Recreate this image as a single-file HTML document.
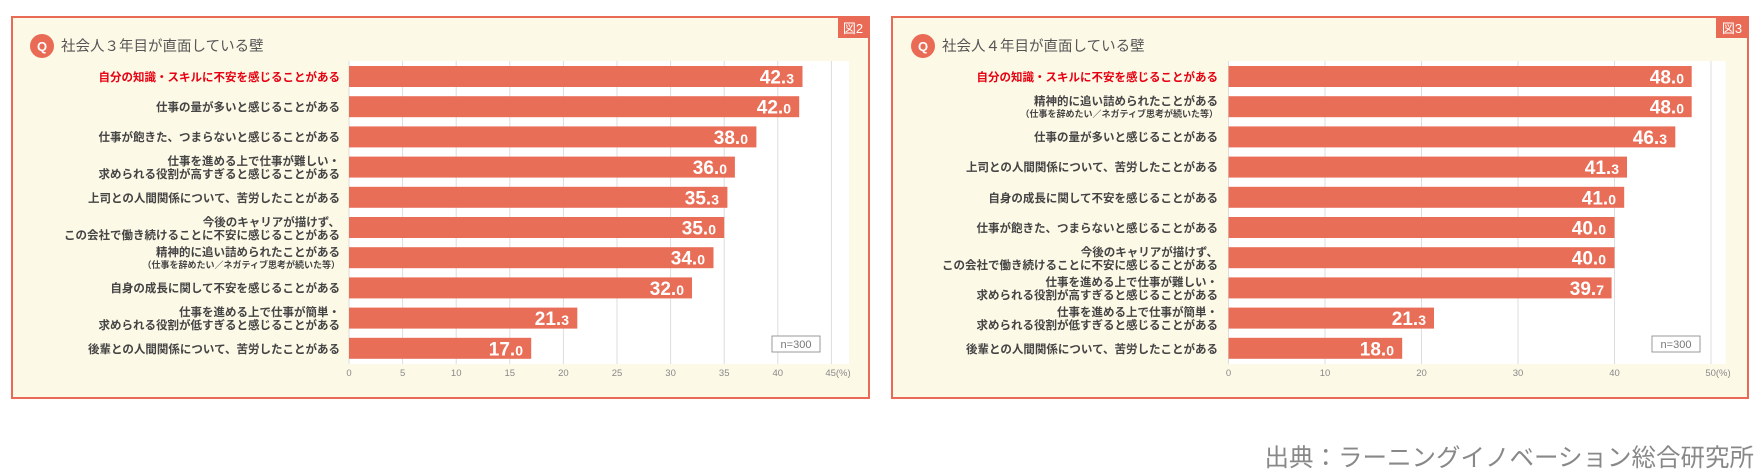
<!DOCTYPE html>
<html><head><meta charset="utf-8"><style>
html,body{margin:0;padding:0;background:#fff;width:1760px;height:476px;overflow:hidden}
svg{display:block}
.lb{font-family:"Liberation Sans","Noto Sans CJK JP",sans-serif;font-size:11.5px;font-weight:700;fill:#444;text-anchor:end}
.sm{font-size:9px}
.rd{fill:#e60012}
.v{font-family:"Liberation Sans","Noto Sans CJK JP",sans-serif;font-size:19px;font-weight:700;fill:#fff;text-anchor:end}
.v tspan{font-size:14px}
.tk{font-family:"Liberation Sans",sans-serif;font-size:9.5px;fill:#888;text-anchor:middle}
.tt{font-family:"Liberation Sans","Noto Sans CJK JP",sans-serif;font-size:14.5px;fill:#555}
.g{stroke:#ddd;stroke-width:1}
.b{fill:#e96e58}
</style></head><body>
<svg width="1760" height="476" viewBox="0 0 1760 476">
<!-- LEFT PANEL -->
<rect x="12" y="17" width="857" height="381" fill="#fdf9e7" stroke="#ea6b55" stroke-width="2"/>
<rect x="838" y="17" width="31" height="21" fill="#ea6b55"/>
<text x="853" y="33" font-family="Liberation Sans,Noto Sans CJK JP,sans-serif" font-size="13" fill="#fff" text-anchor="middle">図2</text>
<circle cx="42" cy="46" r="12" fill="#ea6b55"/>
<text x="42" y="51" font-family="Liberation Sans,sans-serif" font-size="13" font-weight="700" fill="#fff" text-anchor="middle">Q</text>
<text class="tt" x="61" y="51">社会人３年目が直面している壁</text>
<rect x="349" y="61" width="500" height="303" fill="#fff"/>
<g class="g">
<line x1="349" y1="61" x2="349" y2="364"/><line x1="402.6" y1="61" x2="402.6" y2="364"/><line x1="456.2" y1="61" x2="456.2" y2="364"/><line x1="509.8" y1="61" x2="509.8" y2="364"/><line x1="563.4" y1="61" x2="563.4" y2="364"/><line x1="617" y1="61" x2="617" y2="364"/><line x1="670.6" y1="61" x2="670.6" y2="364"/><line x1="724.2" y1="61" x2="724.2" y2="364"/><line x1="777.8" y1="61" x2="777.8" y2="364"/><line x1="831.4" y1="61" x2="831.4" y2="364"/>
</g>
<g class="tk">
<text x="349" y="376">0</text><text x="402.6" y="376">5</text><text x="456.2" y="376">10</text><text x="509.8" y="376">15</text><text x="563.4" y="376">20</text><text x="617" y="376">25</text><text x="670.6" y="376">30</text><text x="724.2" y="376">35</text><text x="777.8" y="376">40</text><text x="838" y="376">45(%)</text>
</g>
<rect x="772" y="336" width="48" height="16" fill="#fff" stroke="#999" stroke-width="1"/>
<text x="796" y="348" font-family="Liberation Sans,sans-serif" font-size="11" fill="#777" text-anchor="middle">n=300</text>
<g>
<rect class="b" x="349" y="66" width="453.5" height="21"/>
<rect class="b" x="349" y="96.2" width="450.2" height="21"/>
<rect class="b" x="349" y="126.4" width="407.4" height="21"/>
<rect class="b" x="349" y="156.6" width="385.9" height="21"/>
<rect class="b" x="349" y="186.8" width="378.4" height="21"/>
<rect class="b" x="349" y="217" width="375.2" height="21"/>
<rect class="b" x="349" y="247.2" width="364.5" height="21"/>
<rect class="b" x="349" y="277.4" width="343" height="21"/>
<rect class="b" x="349" y="307.6" width="228.3" height="21"/>
<rect class="b" x="349" y="337.8" width="182.2" height="21"/>
</g>
<g class="v">
<text x="794" y="83.5">42.<tspan>3</tspan></text>
<text x="791" y="113.7">42.<tspan>0</tspan></text>
<text x="748" y="143.9">38.<tspan>0</tspan></text>
<text x="727" y="174.1">36.<tspan>0</tspan></text>
<text x="719" y="204.3">35.<tspan>3</tspan></text>
<text x="716" y="234.5">35.<tspan>0</tspan></text>
<text x="705" y="264.7">34.<tspan>0</tspan></text>
<text x="684" y="294.9">32.<tspan>0</tspan></text>
<text x="569" y="325.1">21.<tspan>3</tspan></text>
<text x="523" y="355.3">17.<tspan>0</tspan></text>
</g>
<g class="lb">
<text class="rd" x="340" y="81">自分の知識・スキルに不安を感じることがある</text>
<text x="340" y="111">仕事の量が多いと感じることがある</text>
<text x="340" y="141">仕事が飽きた、つまらないと感じることがある</text>
<text x="340" y="165">仕事を進める上で仕事が難しい・</text>
<text x="340" y="178">求められる役割が高すぎると感じることがある</text>
<text x="340" y="202">上司との人間関係について、苦労したことがある</text>
<text x="340" y="226">今後のキャリアが描けず、</text>
<text x="340" y="239">この会社で働き続けることに不安に感じることがある</text>
<text x="340" y="256">精神的に追い詰められたことがある</text>
<text class="sm" x="340" y="268">（仕事を辞めたい／ネガティブ思考が続いた等）</text>
<text x="340" y="292">自身の成長に関して不安を感じることがある</text>
<text x="340" y="316">仕事を進める上で仕事が簡単・</text>
<text x="340" y="329">求められる役割が低すぎると感じることがある</text>
<text x="340" y="353">後輩との人間関係について、苦労したことがある</text>
</g>

<!-- RIGHT PANEL -->
<rect x="892" y="17" width="856" height="381" fill="#fdf9e7" stroke="#ea6b55" stroke-width="2"/>
<rect x="1716" y="17" width="32" height="21" fill="#ea6b55"/>
<text x="1732" y="33" font-family="Liberation Sans,Noto Sans CJK JP,sans-serif" font-size="13" fill="#fff" text-anchor="middle">図3</text>
<circle cx="923" cy="46" r="12" fill="#ea6b55"/>
<text x="923" y="51" font-family="Liberation Sans,sans-serif" font-size="13" font-weight="700" fill="#fff" text-anchor="middle">Q</text>
<text class="tt" x="942" y="51">社会人４年目が直面している壁</text>
<rect x="1228.5" y="61" width="497" height="303" fill="#fff"/>
<g class="g">
<line x1="1228.5" y1="61" x2="1228.5" y2="364"/><line x1="1325" y1="61" x2="1325" y2="364"/><line x1="1421.5" y1="61" x2="1421.5" y2="364"/><line x1="1518" y1="61" x2="1518" y2="364"/><line x1="1614.5" y1="61" x2="1614.5" y2="364"/><line x1="1711" y1="61" x2="1711" y2="364"/>
</g>
<g class="tk">
<text x="1228.5" y="376">0</text><text x="1325" y="376">10</text><text x="1421.5" y="376">20</text><text x="1518" y="376">30</text><text x="1614.5" y="376">40</text><text x="1718" y="376">50(%)</text>
</g>
<rect x="1652" y="336" width="48" height="16" fill="#fff" stroke="#999" stroke-width="1"/>
<text x="1676" y="348" font-family="Liberation Sans,sans-serif" font-size="11" fill="#777" text-anchor="middle">n=300</text>
<g>
<rect class="b" x="1228.5" y="66" width="463.2" height="21"/>
<rect class="b" x="1228.5" y="96.2" width="463.2" height="21"/>
<rect class="b" x="1228.5" y="126.4" width="446.8" height="21"/>
<rect class="b" x="1228.5" y="156.6" width="398.5" height="21"/>
<rect class="b" x="1228.5" y="186.8" width="395.7" height="21"/>
<rect class="b" x="1228.5" y="217" width="386" height="21"/>
<rect class="b" x="1228.5" y="247.2" width="386" height="21"/>
<rect class="b" x="1228.5" y="277.4" width="383.1" height="21"/>
<rect class="b" x="1228.5" y="307.6" width="205.5" height="21"/>
<rect class="b" x="1228.5" y="337.8" width="173.7" height="21"/>
</g>
<g class="v">
<text x="1684" y="83.5">48.<tspan>0</tspan></text>
<text x="1684" y="113.7">48.<tspan>0</tspan></text>
<text x="1667" y="143.9">46.<tspan>3</tspan></text>
<text x="1619" y="174.1">41.<tspan>3</tspan></text>
<text x="1616" y="204.3">41.<tspan>0</tspan></text>
<text x="1606" y="234.5">40.<tspan>0</tspan></text>
<text x="1606" y="264.7">40.<tspan>0</tspan></text>
<text x="1604" y="294.9">39.<tspan>7</tspan></text>
<text x="1426" y="325.1">21.<tspan>3</tspan></text>
<text x="1394" y="355.3">18.<tspan>0</tspan></text>
</g>
<g class="lb">
<text class="rd" x="1218" y="81">自分の知識・スキルに不安を感じることがある</text>
<text x="1218" y="105">精神的に追い詰められたことがある</text>
<text class="sm" x="1218" y="117">（仕事を辞めたい／ネガティブ思考が続いた等）</text>
<text x="1218" y="141">仕事の量が多いと感じることがある</text>
<text x="1218" y="171">上司との人間関係について、苦労したことがある</text>
<text x="1218" y="202">自身の成長に関して不安を感じることがある</text>
<text x="1218" y="232">仕事が飽きた、つまらないと感じることがある</text>
<text x="1218" y="256">今後のキャリアが描けず、</text>
<text x="1218" y="269">この会社で働き続けることに不安に感じることがある</text>
<text x="1218" y="286">仕事を進める上で仕事が難しい・</text>
<text x="1218" y="299">求められる役割が高すぎると感じることがある</text>
<text x="1218" y="316">仕事を進める上で仕事が簡単・</text>
<text x="1218" y="329">求められる役割が低すぎると感じることがある</text>
<text x="1218" y="353">後輩との人間関係について、苦労したことがある</text>
</g>

<text x="1754" y="466" font-family="Liberation Sans,Noto Sans CJK JP,sans-serif" font-size="24.5" fill="#888" text-anchor="end">出典：ラーニングイノベーション総合研究所</text>
</svg>
</body></html>
